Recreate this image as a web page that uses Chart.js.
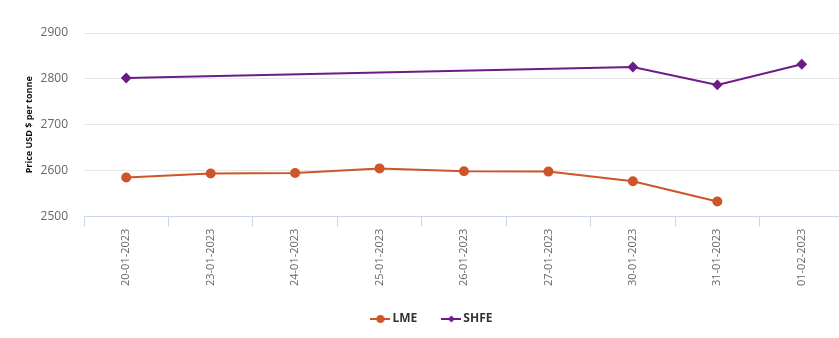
<!DOCTYPE html>
<html>
<head>
<meta charset="utf-8">
<script src="https://cdn.jsdelivr.net/npm/chart.js@4"></script>
<style>
  html, body { margin: 0; padding: 0; background: #fff; overflow: hidden; }
  #wrap { width: 850px; height: 338px; }
</style>
</head>
<body>
<div id="wrap"><canvas id="myChart"></canvas></div>
<script>
// dates on the x axis
const dates = ['20-01-2023', '23-01-2023', '24-01-2023', '25-01-2023', '26-01-2023',
               '27-01-2023', '30-01-2023', '31-01-2023', '01-02-2023'];
// LME price, USD per tonne
const lmePrices = [2585, 2594, 2595, 2605, 2599, 2598, 2577, 2533, null];
// SHFE price, USD per tonne (only some days)
const shfePrices = [2802, null, null, null, null, null, 2826, 2787, 2832];
const yTicks = [2500, 2600, 2700, 2800, 2900];

const lmeColor = '#cd5529';
const shfeColor = '#6b1c87';

// small legend icon: a line with the marker on it
function legendIcon(color, shape) {
    let c = document.createElement('canvas');
    c.width = 20; c.height = 10;
    let g = c.getContext('2d');
    g.strokeStyle = color;
    g.fillStyle = color;
    g.lineWidth = 2;
    g.beginPath();
    g.moveTo(0, 5); g.lineTo(20, 5);
    g.stroke();
    g.beginPath();
    if (shape == 'circle') {
        g.arc(10, 5, 4, 0, Math.PI * 2);
    } else {
        g.moveTo(10, 1.5); g.lineTo(13.5, 5); g.lineTo(10, 8.5); g.lineTo(6.5, 5); g.closePath();
    }
    g.fill();
    return c;
}

let ctx = document.getElementById('myChart').getContext('2d');
let myChart = new Chart(ctx, {
    type: 'line',
    data: {
        labels: dates,
        datasets: [
            {
                label: 'LME',
                data: lmePrices,
                borderColor: lmeColor,
                backgroundColor: lmeColor,
                borderWidth: 2,
                pointStyle: 'circle',
                pointRadius: 4,
                pointHoverRadius: 4,
                fill: false,
                tension: 0
            },
            {
                label: 'SHFE',
                data: shfePrices,
                borderColor: shfeColor,
                backgroundColor: shfeColor,
                borderWidth: 2,
                pointStyle: 'rectRot',
                pointRadius: 4,
                pointHoverRadius: 4,
                spanGaps: true,
                fill: false,
                tension: 0
            }
        ]
    },
    options: {
        responsive: true,
        maintainAspectRatio: false,
        animation: false,
        layout: { padding: { top: 33, left: 20, right: 0, bottom: 3 } },
        plugins: {
            tooltip: { enabled: false },
            legend: {
                position: 'bottom',
                labels: {
                    usePointStyle: true,
                    padding: 25,
                    color: '#333',
                    font: { family: 'Open Sans', size: 12, weight: 'bold' },
                    generateLabels: function(chart) {
                        return chart.data.datasets.map((ds, i) => ({
                            text: ds.label + ' ',
                            fillStyle: ds.borderColor,
                            strokeStyle: ds.borderColor,
                            fontColor: '#333',
                            pointStyle: legendIcon(ds.borderColor, i == 0 ? 'circle' : 'diamond'),
                            datasetIndex: i
                        }));
                    }
                }
            }
        },
        scales: {
            x: {
                offset: true,
                grid: {
                    offset: true,
                    drawOnChartArea: false,
                    drawTicks: true,
                    tickLength: 10,
                    color: '#ccd6eb'
                },
                border: { color: '#ccd6eb' },
                ticks: {
                    minRotation: 90,
                    maxRotation: 90,
                    padding: 2,
                    color: '#666',
                    font: { family: 'Open Sans', size: 11 }
                }
            },
            y: {
                min: 2500,
                max: 2900,
                afterBuildTicks: function(axis) {
                    axis.ticks = yTicks.map(v => ({ value: v }));
                },
                afterFit: function(axis) {
                    axis.width = 64;
                },
                title: {
                    display: true,
                    text: 'Price USD $ per tonne',
                    color: '#111',
                    font: { family: 'Open Sans', size: 9, weight: 'bold' },
                    padding: { top: 4, bottom: 0 }
                },
                grid: {
                    color: '#e6e6e6',
                    drawTicks: false
                },
                border: { display: false },
                ticks: {
                    padding: 16,
                    color: '#666',
                    font: { family: 'Open Sans', size: 12 },
                    callback: function(value) {
                        return String(value);
                    }
                }
            }
        }
    }
});
</script>
</body>
</html>
